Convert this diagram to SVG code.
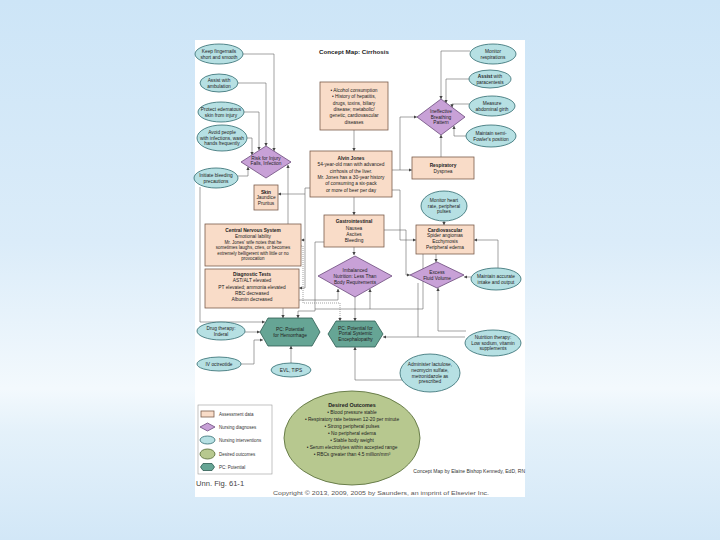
<svg xmlns="http://www.w3.org/2000/svg" width="720" height="540" viewBox="0 0 720 540">
<defs>
<linearGradient id="bg" x1="0" y1="0" x2="0" y2="1">
<stop offset="0" stop-color="#cde5f7"/>
<stop offset="0.45" stop-color="#dbecf9"/>
<stop offset="0.72" stop-color="#f3f9fd"/>
<stop offset="0.8" stop-color="#e4f1fa"/>
<stop offset="1" stop-color="#d2e7f7"/>
</linearGradient>
<marker id="a" viewBox="0 0 6 6" refX="5.6" refY="3" markerUnits="userSpaceOnUse" markerWidth="3.4" markerHeight="3.4" orient="auto"><path d="M0,0 L6,3 L0,6 z" fill="#444"/></marker>
<style>
.t{font-family:"Liberation Sans",Arial,sans-serif;font-size:4.8px;fill:#222;text-anchor:middle}
.s{font-size:4.5px}
.b{font-weight:bold}
.box{fill:#f9dcc8;stroke:#7a5c4c;stroke-width:0.8}
.dia{fill:#c8a1d7;stroke:#6b4a7b;stroke-width:0.8}
.ell{fill:#b6e0e3;stroke:#2e6a6e;stroke-width:0.8}
.hex{fill:#66a595;stroke:#2d5c52;stroke-width:0.8}
.out{fill:#b7c88f;stroke:#5f7440;stroke-width:0.9}
.c{fill:none;stroke:#666;stroke-width:0.6}
.d{stroke-dasharray:1,1}
.lg{font-family:"Liberation Sans",Arial,sans-serif;font-size:4.5px;fill:#333}
</style>
</defs>
<rect width="720" height="540" fill="url(#bg)"/>
<rect x="195" y="40" width="330" height="457" fill="#ffffff"/>
<text class="t b" x="354" y="54" style="font-size:6.2px">Concept Map: Cirrhosis</text>

<g id="connectors">
<path class="c" d="M243,54 H274 V151" marker-end="url(#a)"/>
<path class="c" d="M238,83 H266 V146" marker-end="url(#a)"/>
<path class="c" d="M244,112 H259 V150" marker-end="url(#a)"/>
<path class="c" d="M247,138 H252 V155" marker-end="url(#a)"/>
<path class="c" d="M238,176 H248 V167" marker-end="url(#a)"/>
<path class="c" d="M200,187 V322 H265" marker-end="url(#a)"/>
<path class="c" d="M245,332 H260" marker-end="url(#a)"/>
<path class="c" d="M241,364 H254 V340 H263" marker-end="url(#a)"/>
<path class="c" d="M291,363 V346" marker-end="url(#a)"/>
<path class="c" d="M288,224 V165" marker-end="url(#a)"/>
<path class="c" d="M310,188 H305 V194 H278" marker-end="url(#a)"/>
<path class="c" d="M305,194 V288 H299" marker-end="url(#a)"/>
<path class="c d" d="M305,240 H301" marker-end="url(#a)"/>
<path class="c d" d="M301,246 H303 V303 H340 V321" marker-end="url(#a)"/>
<path class="c" d="M283,308 V318" marker-end="url(#a)"/>
<path class="c" d="M324,242 H315 V311 H298 V318" marker-end="url(#a)"/>
<path class="c" d="M423,254 V309 H315"/>
<path class="c" d="M299,300 H338 V289" marker-end="url(#a)"/>
<path class="c" d="M354,130 V151" marker-end="url(#a)"/>
<path class="c" d="M354,197 V215" marker-end="url(#a)"/>
<path class="c" d="M354,247 V255" marker-end="url(#a)"/>
<path class="c" d="M355,297 V321" marker-end="url(#a)"/>
<path class="c" d="M392,170 H412" marker-end="url(#a)"/>
<path class="c" d="M400,170 V117 H417" marker-end="url(#a)"/>
<path class="c" d="M392,190 H400 V240 H416" marker-end="url(#a)"/>
<path class="c" d="M384,230 H406 V275 H410" marker-end="url(#a)"/>
<path class="c" d="M441,157 V135" marker-end="url(#a)"/>
<path class="c" d="M470,51 H441 V99" marker-end="url(#a)"/>
<path class="c" d="M469,79 H446 V103" marker-end="url(#a)"/>
<path class="c" d="M469,104 H452 V107.5" marker-end="url(#a)"/>
<path class="c" d="M466,136 H454 V126" marker-end="url(#a)"/>
<path class="c" d="M444,221 V225" marker-end="url(#a)"/>
<path class="c" d="M436,254 V262" marker-end="url(#a)"/>
<path class="c" d="M498,268 V240 H474" marker-end="url(#a)"/>
<path class="c" d="M471,277 H464" marker-end="url(#a)"/>
<path class="c" d="M466,331 H438 V288" marker-end="url(#a)"/>
<path class="c" d="M465,337 H418 V283"/>
<path class="c" d="M418,337 H383" marker-end="url(#a)"/>
<path class="c" d="M404,380 H355 V347" marker-end="url(#a)"/>
<path class="c" d="M370,309 V289" marker-end="url(#a)"/>
</g>

<g id="n-keep"><ellipse class="ell" cx="219" cy="54" rx="24" ry="10"/><text class="t" x="219" y="52.9">Keep fingernails</text><text class="t" x="219" y="58.5">short and smooth</text></g>
<g id="n-ambul"><ellipse class="ell" cx="219" cy="83" rx="19" ry="9"/><text class="t" x="219" y="81.9">Assist with</text><text class="t" x="219" y="87.5">ambulation</text></g>
<g id="n-protect"><ellipse class="ell" cx="221" cy="112" rx="23" ry="10"/><text class="t" x="221" y="110.9">Protect edematous</text><text class="t" x="221" y="116.5">skin from injury</text></g>
<g id="n-avoid"><ellipse class="ell" cx="222" cy="138" rx="25" ry="13"/><text class="t" x="222" y="134.1">Avoid people</text><text class="t" x="222" y="139.7">with infections, wash</text><text class="t" x="222" y="145.3">hands frequently</text></g>
<g id="n-risk"><polygon class="dia" points="266,146 291,162 266,178 241,162"/><text class="t" x="266" y="159.8">Risk for Injury</text><text class="t" x="266" y="165.3">Falls, Infection</text></g>
<g id="n-bleed"><ellipse class="ell" cx="216" cy="178" rx="22" ry="10"/><text class="t" x="216" y="176.9">Initiate bleeding</text><text class="t" x="216" y="182.5">precautions</text></g>
<g id="n-skin"><rect class="box" x="254" y="185" width="24" height="25"/><text class="t b" x="266" y="193.6">Skin</text><text class="t" x="266" y="199.2">Jaundice</text><text class="t" x="266" y="204.8">Pruritus</text></g>
<g id="n-cns"><rect class="box" x="205" y="224" width="96" height="42"/><text class="t b" x="253" y="232.2">Central Nervous System</text><text class="t" x="253" y="238.2">Emotional lability</text><text class="t s" x="253" y="243.8">Mr. Jones' wife notes that he</text><text class="t s" x="253" y="249.2">sometimes laughs, cries, or becomes</text><text class="t s" x="253" y="254.6">extremely belligerent with little or no</text><text class="t s" x="253" y="260">provocation</text></g>
<g id="n-diag"><rect class="box" x="205" y="269" width="94" height="39"/><text class="t b" x="252" y="275.8">Diagnostic Tests</text><text class="t" x="252" y="282.2">AST/ALT elevated</text><text class="t" x="252" y="288.6">PT elevated; ammonia elevated</text><text class="t" x="252" y="295">RBC decreased</text><text class="t" x="252" y="301.4">Albumin decreased</text></g>
<g id="n-drug"><ellipse class="ell" cx="221" cy="331" rx="24" ry="9"/><text class="t" x="221" y="329.9">Drug therapy:</text><text class="t" x="221" y="335.5">Inderal</text></g>
<g id="n-iv"><ellipse class="ell" cx="219" cy="364" rx="22" ry="7"/><text class="t" x="219" y="365.7">IV octreotide</text></g>
<g id="n-pchem"><polygon class="hex" points="260,332 268,318 312,318 320,332 312,346 268,346"/><text class="t" x="290" y="330.9">PC: Potential</text><text class="t" x="290" y="336.5">for Hemorrhage</text></g>
<g id="n-evl"><ellipse class="ell" cx="291" cy="370" rx="20" ry="7"/><text class="t" x="291" y="371.7">EVL, TIPS</text></g>
<g id="n-hist"><rect class="box" x="320" y="82" width="68" height="48"/><text class="t" x="354" y="92">• Alcohol consumption</text><text class="t" x="354" y="98.3">• History of hepatitis,</text><text class="t" x="354" y="104.6">drugs, toxins, biliary</text><text class="t" x="354" y="110.9">disease; metabolic/</text><text class="t" x="354" y="117.2">genetic, cardiovascular</text><text class="t" x="354" y="123.5">diseases</text></g>
<g id="n-alvin"><rect class="box" x="310" y="151" width="82" height="46"/><text class="t b" x="351" y="160">Alvin Jones</text><text class="t" x="351" y="166.3">54-year-old man with advanced</text><text class="t" x="351" y="172.6">cirrhosis of the liver.</text><text class="t" x="351" y="178.9">Mr. Jones has a 30-year history</text><text class="t" x="351" y="185.2">of consuming a six-pack</text><text class="t" x="351" y="191.5">or more of beer per day</text></g>
<g id="n-gi"><rect class="box" x="324" y="215" width="60" height="32"/><text class="t b" x="354" y="223.4">Gastrointestinal</text><text class="t" x="354" y="229.6">Nausea</text><text class="t" x="354" y="235.8">Ascites</text><text class="t" x="354" y="242">Bleeding</text></g>
<g id="n-nutr"><polygon class="dia" points="355,256 392,276 355,297 318,276"/><text class="t" x="355" y="271.7">Imbalanced</text><text class="t" x="355" y="277.7">Nutrition: Less Than</text><text class="t" x="355" y="283.7">Body Requirements</text></g>
<g id="n-pcpse"><polygon class="hex" points="328,334 336,321 375,321 383,334 375,347 336,347"/><text class="t" x="355.5" y="329.5">PC: Potential for</text><text class="t" x="355.5" y="335.3">Portal Systemic</text><text class="t" x="355.5" y="341.1">Encephalopathy</text></g>
<g id="n-admin"><ellipse class="ell" cx="430" cy="373" rx="30" ry="19"/><text class="t" x="430" y="366.3">Administer lactulose,</text><text class="t" x="430" y="371.9">neomycin sulfate,</text><text class="t" x="430" y="377.5">metronidazole as</text><text class="t" x="430" y="383.1">prescribed</text></g>
<g id="n-ntherapy"><ellipse class="ell" cx="493" cy="343" rx="28" ry="13"/><text class="t" x="493" y="339.1">Nutrition therapy:</text><text class="t" x="493" y="344.7">Low sodium, vitamin</text><text class="t" x="493" y="350.3">supplements</text></g>
<g id="n-io"><ellipse class="ell" cx="496" cy="279" rx="25" ry="11"/><text class="t" x="496" y="277.9">Maintain accurate</text><text class="t" x="496" y="283.5">intake and output</text></g>
<g id="n-fluid"><polygon class="dia" points="437,262 464,275 437,288 410,275"/><text class="t" x="437" y="273.9">Excess</text><text class="t" x="437" y="279.5">Fluid Volume</text></g>
<g id="n-cv"><rect class="box" x="416" y="225" width="58" height="29"/><text class="t b" x="445" y="231.5">Cardiovascular</text><text class="t" x="445" y="237.3">Spider angiomas</text><text class="t" x="445" y="243.1">Ecchymosis</text><text class="t" x="445" y="248.9">Peripheral edema</text></g>
<g id="n-heart"><ellipse class="ell" cx="444" cy="206" rx="23" ry="15"/><text class="t" x="444" y="202.1">Monitor heart</text><text class="t" x="444" y="207.7">rate, peripheral</text><text class="t" x="444" y="213.3">pulses</text></g>
<g id="n-resp"><rect class="box" x="412" y="157" width="62" height="22"/><text class="t b" x="443" y="166.7">Respiratory</text><text class="t" x="443" y="172.7">Dyspnea</text></g>
<g id="n-breath"><polygon class="dia" points="441,99 465,117 441,135 417,117"/><text class="t" x="441" y="113.1">Ineffective</text><text class="t" x="441" y="118.7">Breathing</text><text class="t" x="441" y="124.3">Pattern</text></g>
<g id="n-monresp"><ellipse class="ell" cx="493" cy="54" rx="23" ry="10"/><text class="t" x="493" y="52.9">Monitor</text><text class="t" x="493" y="58.5">respirations</text></g>
<g id="n-para"><ellipse class="ell" cx="490" cy="79" rx="21" ry="9"/><text class="t" x="490" y="77.9"><tspan class="b">Assist</tspan> with</text><text class="t" x="490" y="83.5">paracentesis</text></g>
<g id="n-girth"><ellipse class="ell" cx="492" cy="106" rx="23" ry="10"/><text class="t" x="492" y="104.9">Measure</text><text class="t" x="492" y="110.5">abdominal girth</text></g>
<g id="n-fowler"><ellipse class="ell" cx="491" cy="136" rx="25" ry="11"/><text class="t" x="491" y="134.9">Maintain semi-</text><text class="t" x="491" y="140.5">Fowler's position</text></g>

<g id="n-outcomes"><ellipse class="out" cx="352" cy="438" rx="68" ry="47"/>
<text class="t b" x="352" y="406.5" style="font-size:5.4px">Desired Outcomes</text>
<text class="t" x="352" y="413.8">• Blood pressure stable</text>
<text class="t" x="352" y="420.8">• Respiratory rate between 12-20 per minute</text>
<text class="t" x="352" y="427.8">• Strong peripheral pulses</text>
<text class="t" x="352" y="434.8">• No peripheral edema</text>
<text class="t" x="352" y="441.8">• Stable body weight</text>
<text class="t" x="352" y="448.8">• Serum electrolytes within accepted range</text>
<text class="t" x="352" y="455.8">• RBCs greater than 4.5 million/mm³</text></g>

<g id="legend">
<rect x="198" y="405" width="74" height="69" fill="#fff" stroke="#999" stroke-width="0.6"/>
<rect class="box" x="201" y="411" width="13" height="6"/><text class="lg" x="219" y="415.5">Assessment data</text>
<polygon class="dia" points="207.5,423 215,427 207.5,431 200,427"/><text class="lg" x="219" y="428.6">Nursing diagnoses</text>
<ellipse class="ell" cx="207.5" cy="440" rx="7.5" ry="4"/><text class="lg" x="219" y="441.6">Nursing interventions</text>
<ellipse class="out" cx="207.5" cy="454" rx="7.5" ry="5"/><text class="lg" x="219" y="455.6">Desired outcomes</text>
<polygon class="hex" points="200.5,467 203,463.5 212,463.5 214.5,467 212,470.5 203,470.5"/><text class="lg" x="219" y="468.6">PC: Potential</text>
</g>
<text x="196" y="486" style="font-family:'Liberation Sans',Arial,sans-serif;font-size:7.6px;fill:#444">Unn. Fig. 61-1</text>
<text x="525" y="473" style="font-family:'Liberation Sans',Arial,sans-serif;font-size:5px;fill:#333;text-anchor:end">Concept Map by Elaine Bishop Kennedy, EdD, RN</text>
<text x="273" y="494.5" textLength="216" lengthAdjust="spacingAndGlyphs" style="font-family:'Liberation Sans',Arial,sans-serif;font-size:6px;fill:#555">Copyright © 2013, 2009, 2005 by Saunders, an imprint of Elsevier Inc.</text>
</svg>
